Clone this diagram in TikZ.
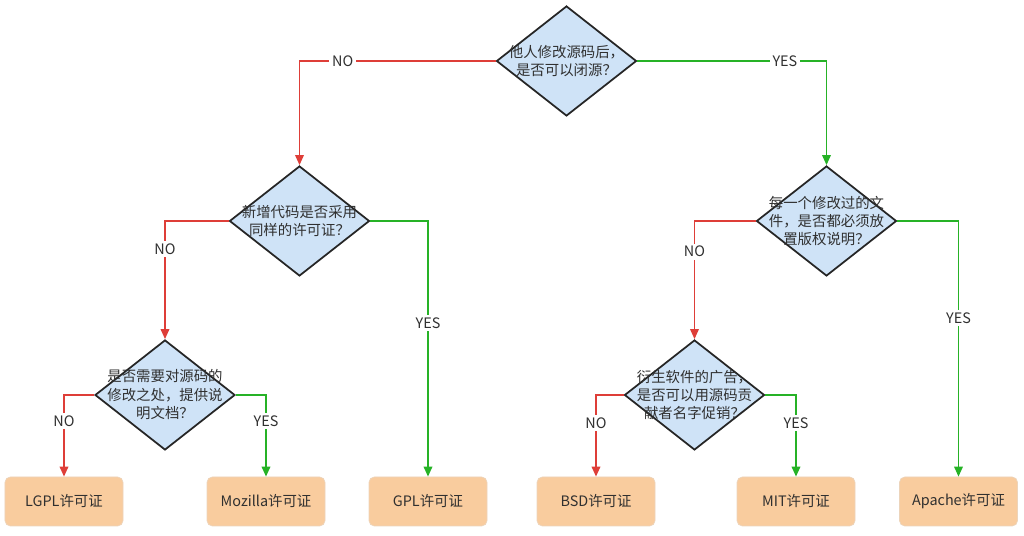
\documentclass[tikz,border=0pt]{standalone}
\usepackage{fontspec}
\setmainfont{Noto Sans CJK SC}
\usetikzlibrary{positioning, shapes.geometric, arrows.meta}

\definecolor{noRed}{RGB}{222,62,56}
\definecolor{yesGreen}{RGB}{38,178,38}
\definecolor{askBlue}{RGB}{207,227,247}
\definecolor{licPeach}{RGB}{249,204,158}
\definecolor{txtGray}{RGB}{48,48,48}

\begin{document}
\begin{tikzpicture}[
        font=\fontsize{8.2}{10.5}\selectfont, text=txtGray,
        decision/.style={diamond, draw=black!85, fill=askBlue, line
          width=1pt, minimum width=2.8cm, minimum height=2.2cm, inner
        sep=0pt},
        asktext/.style={align=center, inner sep=0pt},
        license/.style={rectangle, draw=licPeach!90!black!60, fill=licPeach,
          rounded corners=3pt, minimum width=2.36cm, minimum
        height=0.98cm, line width=0.4pt},
        noline/.style={draw=noRed, -{Triangle[length=2mm, width=1.7mm]},
        line width=1pt},
        yesline/.style={draw=yesGreen, -{Triangle[length=2mm, width=1.7mm]},
        line width=1pt},
        tag/.style={fill=white, inner sep=1.5pt}
      ]
      \useasboundingbox (0, 0) rectangle (20.48, -10.72);

      % questions
      \node [decision, label={[asktext]center:他人修改源码后，\\是否可以闭源？}]
      (q_close) at (11.33, -1.22) {};
      \node [decision, label={[asktext]center:新增代码是否采用\\同样的许可证？}]
      (q_same) at (5.99, -4.42) {};
      \node [decision, label={[asktext]center:每一个修改过的文\\件，是否都必须放\\置版权说明？}]
      (q_notice) at (16.53, -4.42) {};
      \node [decision, label={[asktext]center:是否需要对源码的\\修改之处，提供说\\明文档？}]
      (q_doc) at (3.30, -7.90) {};
      \node [decision, label={[asktext]center:衍生软件的广告，\\是否可以用源码贡\\献者名字促销？}]
      (q_promo) at (13.89, -7.90) {};

      % licenses
      \node [license] (l_lgpl) at (1.28, -10.03) {LGPL许可证};
      \node [license] (l_mozilla) at (5.32, -10.03) {Mozilla许可证};
      \node [license] (l_gpl) at (8.56, -10.03) {GPL许可证};
      \node [license] (l_bsd) at (11.92, -10.03) {BSD许可证};
      \node [license] (l_mit) at (15.92, -10.03) {MIT许可证};
      \node [license] (l_apache) at (19.17, -10.03) {Apache许可证};

      \path [noline] (q_close.west) -| node[tag, pos=0.39] {NO} (q_same.north);
      \path [yesline] (q_close.east) -| node[tag, pos=0.39] {YES} (q_notice.north);

      \path [noline] (q_same.west) -| node[tag, pos=0.62] {NO} (q_doc.north);
      \path [yesline] (q_same.east) -| node[tag, pos=0.70] {YES} (l_gpl.north);

      \path [noline] (q_notice.west) -| node[tag, pos=0.63] {NO} (q_promo.north);
      \path [yesline] (q_notice.east) -| node[tag, pos=0.69] {YES} (l_apache.north);

      \path [noline] (q_doc.west) -| node[tag, pos=0.66] {NO} (l_lgpl.north);
      \path [yesline] (q_doc.east) -| node[tag, pos=0.66] {YES} (l_mozilla.north);

      \path [noline] (q_promo.west) -| node[tag, pos=0.67] {NO} (l_bsd.north);
      \path [yesline] (q_promo.east) -| node[tag, pos=0.67] {YES} (l_mit.north);

    \end{tikzpicture}
\end{document}
